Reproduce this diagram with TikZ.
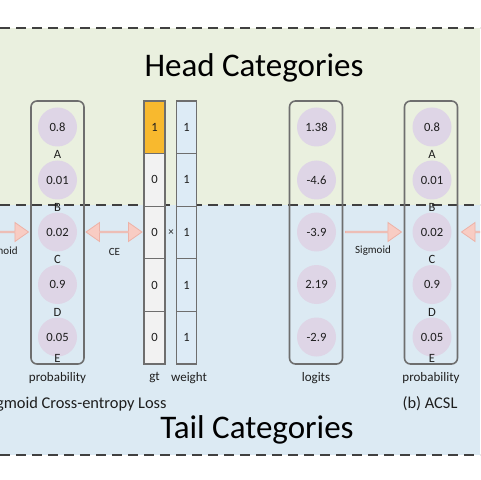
\documentclass[tikz,border=0pt]{standalone}
\usepackage{fontspec}
\setmainfont{Carlito}
\usetikzlibrary{shapes.arrows}
\definecolor{headbg}{HTML}{EAF0DF}
\definecolor{tailbg}{HTML}{DCEAF3}
\definecolor{dashc}{HTML}{404040}
\definecolor{boxc}{HTML}{6E6E6E}
\definecolor{ballc}{HTML}{DED5E6}
\definecolor{gtone}{HTML}{F8B92E}
\definecolor{gtzero}{HTML}{F2F2F2}
\definecolor{wcell}{HTML}{DDEBF6}
\definecolor{pinkf}{HTML}{F8CCC3}
\definecolor{pinkd}{HTML}{EDB2A7}
\definecolor{txt}{HTML}{1E1E1E}
\tikzset{
  sep/.style={draw=dashc, line width=0.65pt, dash pattern=on 5pt off 3pt},
  colbox/.style={draw=boxc, line width=0.8pt, rounded corners=3pt, minimum width=26.5pt, minimum height=131.5pt, inner sep=0pt},
  ball/.style={circle, fill=ballc, minimum size=19.5pt, inner sep=0pt, text=txt, font=\fontsize{6.3}{7}\selectfont},
  lab/.style={inner sep=0pt, text=txt, font=\fontsize{6.3}{7}\selectfont},
  collabel/.style={inner sep=0pt, text=txt, font=\fontsize{6.5}{8}\selectfont},
  small/.style={inner sep=0pt, text=txt, font=\fontsize{5.5}{7}\selectfont},
  big/.style={inner sep=0pt, text=txt, font=\fontsize{8.2}{10}\selectfont},
  title/.style={inner sep=0pt, text=black, font=\fontsize{16.5}{19}\selectfont},
  gtcell/.style={draw=boxc, line width=0.6pt, minimum width=10.5pt, minimum height=26.3pt, inner sep=0pt, text=txt, font=\fontsize{6.3}{7}\selectfont},
  wtcell/.style={draw=boxc, line width=0.6pt, fill=wcell, minimum width=9.8pt, minimum height=26.3pt, inner sep=0pt, text=txt, font=\fontsize{6.3}{7}\selectfont},
  fatarrow/.style={single arrow, fill=pinkf, draw=pinkd, line width=0.4pt, minimum width=9.5pt, single arrow head extend=2.5pt, single arrow tip angle=70, inner sep=0pt, minimum height=28pt},
  fatdouble/.style={double arrow, fill=pinkf, draw=pinkd, line width=0.4pt, minimum width=9.5pt, double arrow head extend=2.5pt, double arrow tip angle=70, inner sep=0pt, minimum height=28pt}
}
\begin{document}
\begin{tikzpicture}[x=0.5pt,y=-0.5pt]
\useasboundingbox (0,0) rectangle (480,480);
\clip (0,0) rectangle (480,480);
% backgrounds
\fill[headbg] (0,28) rectangle (480,205);
\fill[tailbg] (0,205) rectangle (480,455);
\draw[sep] (0,28) -- (480,28);
\draw[sep] (0,205) -- (480,205);
\draw[sep] (0,455) -- (480,455);
% titles
\node[title] (head) at (254,68) {Head Categories};
\node[title] (tail) at (257,430) {Tail Categories};
% left probability column
\node[colbox] (lbox) at (57.5,232.5) {};
\node[ball] (la) at (57.5,127) {0.8};
\node[ball] (lb) at (57.5,180) {0.01};
\node[ball] (lc) at (57.5,232) {0.02};
\node[ball] (ld) at (57.5,284.5) {0.9};
\node[ball] (le) at (57.5,337) {0.05};
\node[lab] (lla) at (57.5,154) {A};
\node[lab] (llb) at (57.5,207) {B};
\node[lab] (llc) at (57.5,259) {C};
\node[lab] (lld) at (57.5,312) {D};
\node[lab] (lle) at (57.5,358) {E};
\node[collabel] (lprob) at (57.5,378) {probability};
% gt column
\node[gtcell, fill=gtone] (g1) at (154.5,127.3) {1};
\node[gtcell, fill=gtzero] (g2) at (154.5,179.9) {0};
\node[gtcell, fill=gtzero] (g3) at (154.5,232.5) {0};
\node[gtcell, fill=gtzero] (g4) at (154.5,285.1) {0};
\node[gtcell, fill=gtzero] (g5) at (154.5,337.7) {0};
\node[collabel] (gtl) at (154.5,378) {gt};
% weight column
\node[wtcell] (w1) at (186.5,127.3) {1};
\node[wtcell] (w2) at (186.5,179.9) {1};
\node[wtcell] (w3) at (186.5,232.5) {1};
\node[wtcell] (w4) at (186.5,285.1) {1};
\node[wtcell] (w5) at (186.5,337.7) {1};
\node[collabel] (wl) at (189,378) {weight};
\node[small] (times) at (171,232.5) {×};
% logits column
\node[colbox] (gbox) at (316,232.5) {};
\node[ball] (ga) at (316.5,127) {1.38};
\node[ball] (gb) at (316.5,180) {-4.6};
\node[ball] (gc) at (316.5,232) {-3.9};
\node[ball] (gd) at (316.5,284.5) {2.19};
\node[ball] (ge) at (316.5,337) {-2.9};
\node[collabel] (logl) at (316,378) {logits};
% right probability column
\node[colbox] (rbox) at (431,232.5) {};
\node[ball] (ra) at (432,127) {0.8};
\node[ball] (rb) at (432,180) {0.01};
\node[ball] (rc) at (432,232) {0.02};
\node[ball] (rd) at (432,284.5) {0.9};
\node[ball] (re) at (432,337) {0.05};
\node[lab] (rla) at (432,154) {A};
\node[lab] (rlb) at (432,207) {B};
\node[lab] (rlc) at (432,259) {C};
\node[lab] (rld) at (432,312) {D};
\node[lab] (rle) at (432,358) {E};
\node[collabel] (rprob) at (431,378) {probability};
% arrows
\node[fatarrow] (arrL) at (0,232) {};
\node[small, anchor=east] (sigL) at (18,252) {Sigmoid};
\node[fatdouble] (arrCE) at (114,232) {};
\node[small] (ce) at (114.5,252) {CE};
\node[fatarrow] (arrS) at (373,232) {};
\node[small] (sig) at (373,251) {Sigmoid};
\node[fatarrow, shape border rotate=180] (arrR) at (490,232) {};
% captions
\node[big, anchor=east] (capa) at (167,404) {(a) Sigmoid Cross-entropy Loss};
\node[big] (capb) at (430,404) {(b) ACSL};
\end{tikzpicture}
\end{document}
